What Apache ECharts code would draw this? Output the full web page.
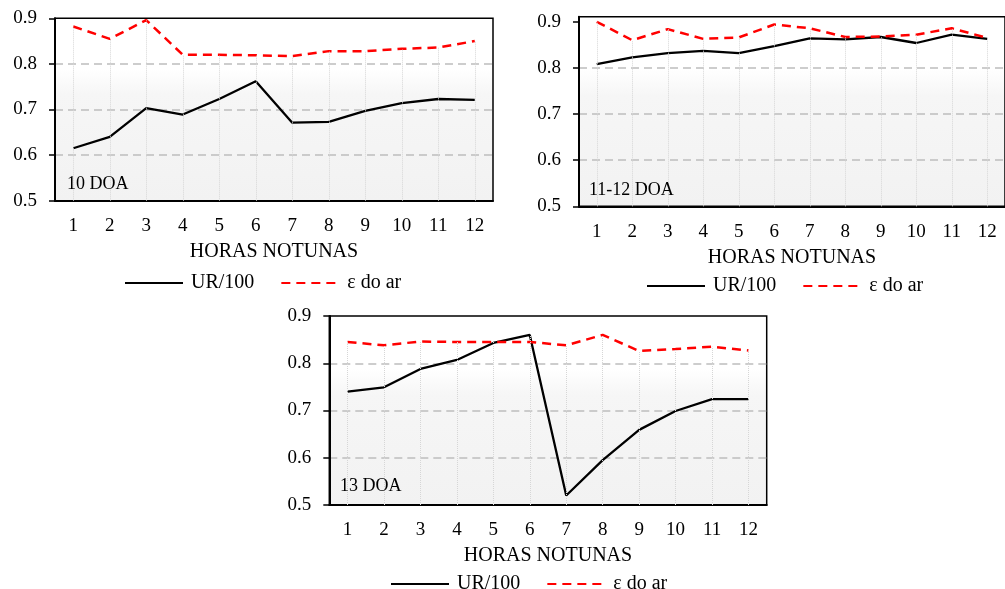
<!DOCTYPE html>
<html>
<head>
<meta charset="utf-8">
<script src="https://cdn.jsdelivr.net/npm/echarts@6/dist/echarts.min.js"></script>
<style>
html,body{margin:0;padding:0;background:#fff;}
#c{width:1005px;height:589px;}
</style>
</head>
<body>
<div id="c"></div>
<script>
// ---- data ----
const hours = ['1','2','3','4','5','6','7','8','9','10','11','12'];
const yTicks = [0.5, 0.6, 0.7, 0.8, 0.9];
const panelLabels = ['10 DOA', '11-12 DOA', '13 DOA'];
const seriesNames = ['UR/100', 'ε do ar'];
const xTitle = 'HORAS NOTUNAS';

const ur10  = [0.615, 0.640, 0.703, 0.689, 0.723, 0.762, 0.671, 0.673, 0.697, 0.714, 0.723, 0.721];
const eps10 = [0.882, 0.855, 0.896, 0.820, 0.820, 0.819, 0.817, 0.828, 0.828, 0.833, 0.836, 0.850];

const ur1112  = [0.808, 0.823, 0.832, 0.837, 0.832, 0.847, 0.864, 0.862, 0.867, 0.854, 0.872, 0.863];
const eps1112 = [0.900, 0.860, 0.884, 0.863, 0.866, 0.894, 0.886, 0.867, 0.868, 0.872, 0.886, 0.865];

const ur13  = [0.740, 0.749, 0.788, 0.807, 0.843, 0.860, 0.520, 0.595, 0.659, 0.699, 0.724, 0.724];
const eps13 = [0.845, 0.838, 0.846, 0.845, 0.845, 0.845, 0.838, 0.860, 0.826, 0.830, 0.835, 0.827];

const panels = [
  {ur: ur10, eps: eps10, yMax: 0.9},
  {ur: ur1112, eps: eps1112, yMax: 0.911},
  {ur: ur13, eps: eps13, yMax: 0.9}
];

// ---- layout ----
const FONT = 'Liberation Serif';
const gridPos = [
  {left: 55, top: 18.3, width: 438, height: 182.4},
  {left: 579, top: 16.7, width: 438, height: 189.6},
  {left: 329.3, top: 316, width: 437.4, height: 189}
];
const legendPos = [
  {left: 119, top: 268},
  {left: 641, top: 271},
  {left: 385, top: 569}
];
const labelPos = [
  {left: 67, top: 175},
  {left: 589, top: 181},
  {left: 340, top: 477}
];

const grids = [], xAxes = [], yAxes = [], series = [], legends = [], titles = [];
const gray = '#bdbdbd', clear = 'rgba(0,0,0,0)';

panels.forEach((p, k) => {
  grids.push(Object.assign({
    show: true,
    borderColor: '#000',
    borderWidth: 1.5,
    backgroundColor: {
      type: 'linear', x: 0, y: 0, x2: 0, y2: 1,
      colorStops: [
        {offset: 0, color: '#ffffff'},
        {offset: 0.28, color: '#ffffff'},
        {offset: 0.42, color: '#f6f6f6'},
        {offset: 1, color: '#f2f2f2'}
      ]
    }
  }, gridPos[k]));
  xAxes.push({
    type: 'category', gridIndex: k, data: hours, boundaryGap: true,
    axisLine: {lineStyle: {color: '#000', width: 2}},
    axisTick: {alignWithLabel: true, length: 6, lineStyle: {color: '#000', width: 1.5}},
    axisLabel: {color: '#000', fontFamily: FONT, fontSize: 19, margin: 16},
    splitLine: {show: false},
    name: xTitle, nameLocation: 'middle', nameGap: 41,
    nameTextStyle: {color: '#000', fontFamily: FONT, fontSize: 20}
  });
  yAxes.push({
    type: 'value', gridIndex: k, min: 0.5, max: p.yMax, interval: 0.1,
    axisLine: {show: true, lineStyle: {color: '#000', width: 2}},
    axisTick: {show: true, length: 6, customValues: yTicks, lineStyle: {color: '#000', width: 1.5}},
    axisLabel: {color: '#000', fontFamily: FONT, fontSize: 19, margin: 18,
      customValues: yTicks,
      formatter: v => v.toFixed(1)},
    splitLine: {show: true, lineStyle: {type: [8, 5], width: 1.5,
      color: [clear, gray, gray, gray, clear, clear]}}
  });
  const drops = hours.map((h, i) => [
    {coord: [i, 0.5]},
    {coord: [i, Math.max(p.ur[i], p.eps[i])]}
  ]);
  series.push({
    name: seriesNames[0], type: 'line', xAxisIndex: k, yAxisIndex: k,
    data: p.ur, symbol: 'none', z: 3,
    lineStyle: {color: '#000', width: 2.3},
    itemStyle: {color: '#000'},
    markLine: {
      silent: true, symbol: 'none', label: {show: false},
      lineStyle: {type: 'dotted', color: '#d6d6d6', width: 1},
      emphasis: {disabled: true},
      data: drops
    }
  });
  series.push({
    name: seriesNames[1], type: 'line', xAxisIndex: k, yAxisIndex: k,
    data: p.eps, symbol: 'none', z: 4,
    lineStyle: {color: '#ff0000', width: 2.5, type: [9, 6]},
    itemStyle: {color: '#ff0000'}
  });
  legends.push(Object.assign({
    data: seriesNames, orient: 'horizontal',
    itemWidth: 58, itemHeight: 12, itemGap: 26,
    itemStyle: {opacity: 0},
    textStyle: {color: '#000', fontFamily: FONT, fontSize: 20, padding: [0, 0, 0, 3]}
  }, legendPos[k]));
  titles.push(Object.assign({
    text: panelLabels[k], padding: 0,
    textStyle: {color: '#000', fontFamily: FONT, fontSize: 18, fontWeight: 'normal'}
  }, labelPos[k]));
});

const chart = echarts.init(document.getElementById('c'), null, {renderer: 'canvas'});
chart.setOption({
  animation: false,
  backgroundColor: '#fff',
  title: titles,
  grid: grids,
  xAxis: xAxes,
  yAxis: yAxes,
  legend: legends,
  series: series
});
</script>
</body>
</html>
